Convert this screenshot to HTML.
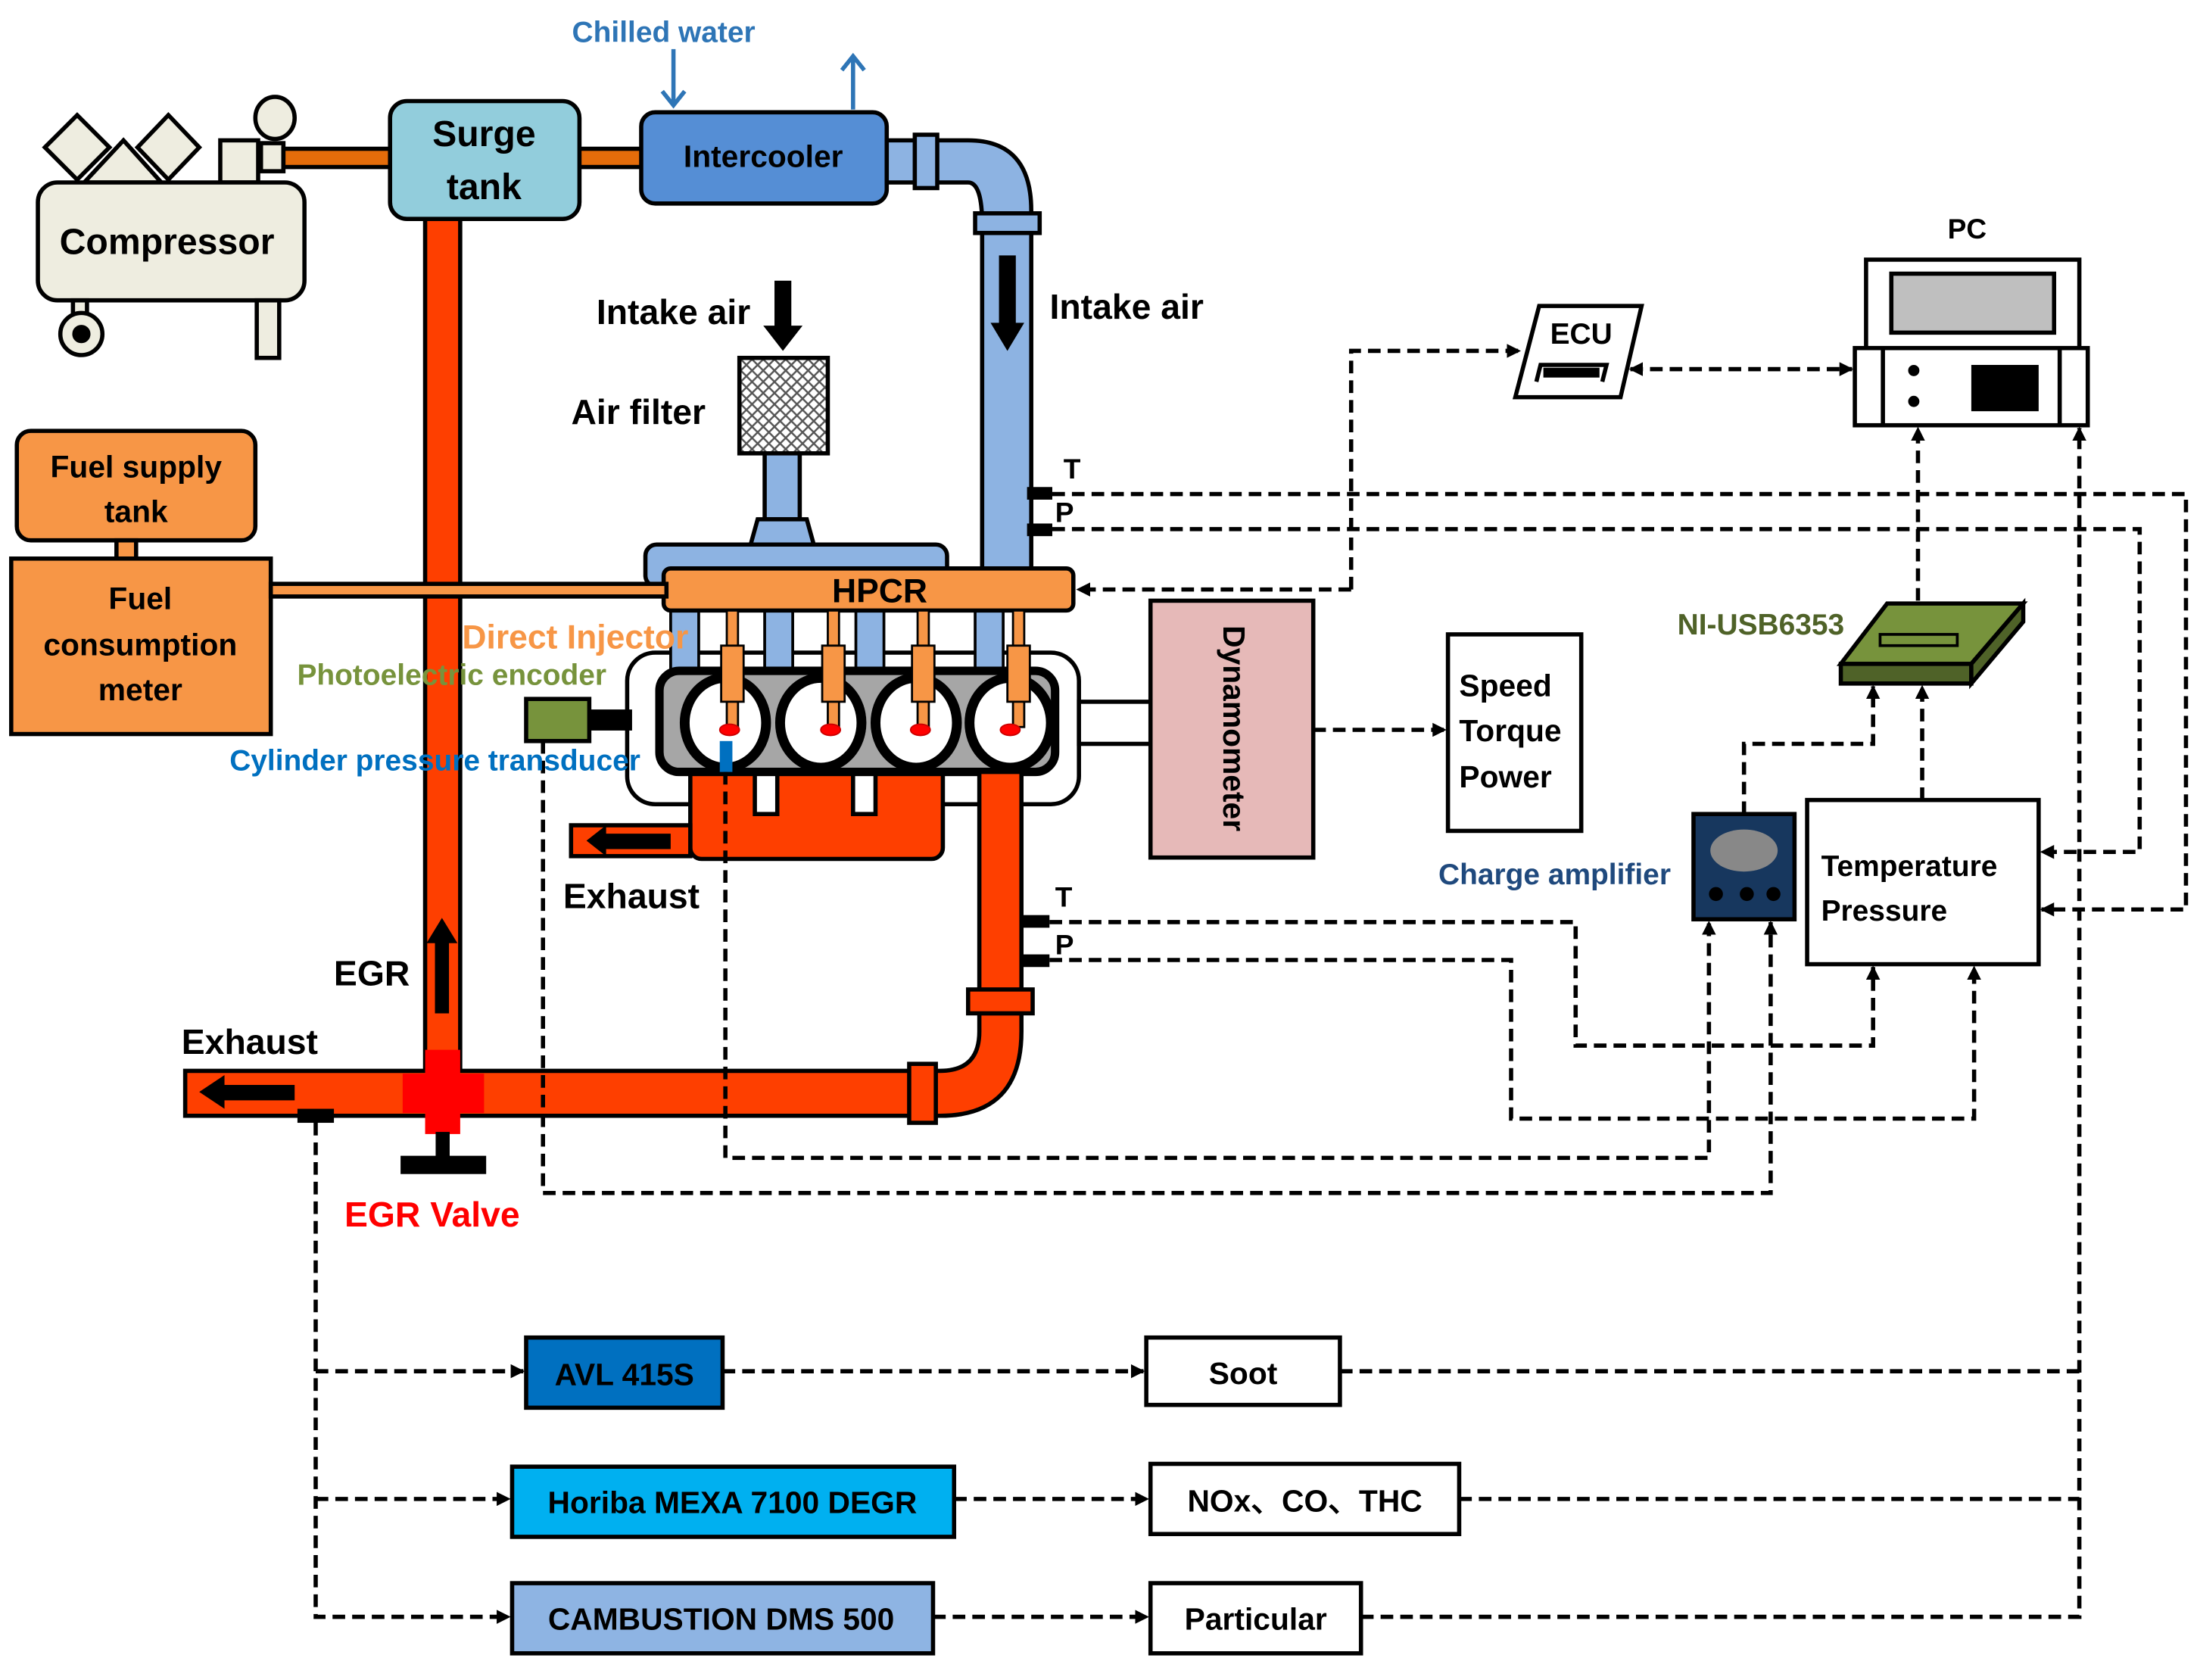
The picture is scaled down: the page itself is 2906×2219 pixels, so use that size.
<!DOCTYPE html>
<html><head><meta charset="utf-8"><style>
html,body{margin:0;padding:0;background:#fff;}
svg{display:block;}
text{font-family:"Liberation Sans",sans-serif;font-weight:bold;}
</style></head><body>
<svg width="2906" height="2219" viewBox="0 0 1568 1197" preserveAspectRatio="none" xmlns="http://www.w3.org/2000/svg">
<defs>
<marker id="a" markerWidth="10" markerHeight="10" refX="9" refY="5" orient="auto" markerUnits="userSpaceOnUse"><path d="M0,0 L10,5 L0,10 Z" fill="#000"/></marker>
<marker id="as" markerWidth="10" markerHeight="10" refX="1" refY="5" orient="auto" markerUnits="userSpaceOnUse"><path d="M10,0 L0,5 L10,10 Z" fill="#000"/></marker>
<pattern id="h" width="8" height="8" patternUnits="userSpaceOnUse"><rect width="8" height="8" fill="#fff"/><path d="M0,0L8,8M8,0L0,8" stroke="#555" stroke-width="1.3"/></pattern>
</defs>
<g stroke="#000" stroke-width="3">
<!-- compressor -->
<path d="M32,105 L55,82 L78,105 L55,128 Z" fill="#eeede0"/>
<path d="M98,105 L120,82 L142,105 L120,128 Z" fill="#eeede0"/>
<path d="M60,130 L88,100 L115,130 Z" fill="#eeede0"/>
<rect x="157" y="100" width="27" height="30" fill="#eeede0"/>
<ellipse cx="196" cy="84" rx="14" ry="15" fill="#eeede0"/>
<rect x="186" y="102" width="16" height="20" fill="#eeede0"/>
<rect x="27" y="130" width="190" height="84" rx="14" fill="#eeede0"/>
<rect x="52" y="214" width="10" height="10" fill="#eeede0"/>
<circle cx="58" cy="238" r="15" fill="#eeede0"/>
<circle cx="58" cy="238" r="5" fill="#000"/>
<rect x="183" y="214" width="16" height="41" fill="#eeede0"/>
<!-- orange pipes -->
<rect x="202" y="106" width="78" height="13" fill="#e46c0a"/>
<rect x="412" y="106" width="46" height="13" fill="#e46c0a"/>
<!-- red vertical EGR pipe -->
<rect x="303" y="155" width="25" height="610" fill="#fe3f00"/>
<rect x="278" y="72" width="135" height="84" rx="12" fill="#92cddc"/>
<rect x="457" y="80" width="175" height="65" rx="10" fill="#558ed5"/>
<!-- blue intake pipe -->
<path d="M632,100 L690,100 Q735,100 735,150 L735,420 L700,420 L700,160 Q700,130 690,130 L632,130 Z" fill="#8db3e2"/>
<rect x="652" y="96" width="16" height="38" fill="#8db3e2"/>
<rect x="695" y="152" width="46" height="14" fill="#8db3e2"/>
<!-- air filter -->
<rect x="527" y="255" width="63" height="68" fill="url(#h)"/>
<rect x="545" y="323" width="25" height="47" fill="#8db3e2"/>
<path d="M540,370 L575,370 L580,388 L535,388 Z" fill="#8db3e2"/>
<rect x="460" y="388" width="215" height="30" rx="8" fill="#8db3e2"/>
<!-- engine -->
<rect x="447" y="465" width="322" height="108" rx="20" fill="#fff"/>
<rect x="769" y="500" width="52" height="30" fill="#fff"/>
<rect x="478" y="430" width="20" height="55" fill="#8db3e2" stroke-width="2"/>
<rect x="545" y="430" width="20" height="55" fill="#8db3e2" stroke-width="2"/>
<rect x="610" y="430" width="20" height="55" fill="#8db3e2" stroke-width="2"/>
<rect x="695" y="430" width="20" height="55" fill="#8db3e2" stroke-width="2"/>
<rect x="492" y="540" width="180" height="72" rx="8" fill="#fe3f00"/>
<rect x="538" y="548" width="16" height="32" fill="#fff"/>
<rect x="608" y="548" width="16" height="32" fill="#fff"/>
<rect x="407" y="588" width="85" height="22" fill="#fe3f00"/>
<rect x="470" y="478" width="282" height="72" rx="14" fill="#a6a6a6" stroke-width="6"/>
<ellipse cx="517" cy="515" rx="29" ry="32" fill="#fff" stroke-width="7"/>
<ellipse cx="585" cy="515" rx="29" ry="32" fill="#fff" stroke-width="7"/>
<ellipse cx="653" cy="515" rx="29" ry="32" fill="#fff" stroke-width="7"/>
<ellipse cx="720" cy="515" rx="29" ry="32" fill="#fff" stroke-width="7"/>
<rect x="473" y="405" width="292" height="30" rx="5" fill="#f79646"/>
<!-- injectors -->
<g fill="#f79646" stroke-width="1.5">
<rect x="518" y="435" width="8" height="30"/><rect x="514" y="460" width="16" height="40"/><rect x="518" y="500" width="8" height="18"/>
<rect x="590" y="435" width="8" height="30"/><rect x="586" y="460" width="16" height="40"/><rect x="590" y="500" width="8" height="18"/>
<rect x="654" y="435" width="8" height="30"/><rect x="650" y="460" width="16" height="40"/><rect x="654" y="500" width="8" height="18"/>
<rect x="722" y="435" width="8" height="30"/><rect x="718" y="460" width="16" height="40"/><rect x="722" y="500" width="8" height="18"/>
</g>
<g fill="#f00" stroke="#c00" stroke-width="1">
<ellipse cx="520" cy="520" rx="7" ry="4"/><ellipse cx="592" cy="520" rx="7" ry="4"/><ellipse cx="656" cy="520" rx="7" ry="4"/><ellipse cx="720" cy="520" rx="7" ry="4"/>
</g>
<rect x="513" y="528" width="9" height="22" fill="#0070c0" stroke="none"/>
<!-- encoder -->
<rect x="422" y="507" width="27" height="12" fill="#000"/>
<rect x="375" y="498" width="45" height="30" fill="#77933c"/>
<!-- exhaust pipes -->
<rect x="698" y="550" width="30" height="160" fill="#fe3f00"/>
<path d="M698,722 L698,735 Q698,763 670,763 L132,763 L132,795 L670,795 Q728,795 728,735 L728,722 Z" fill="#fe3f00"/>
<rect x="690" y="705" width="46" height="17" fill="#fe3f00"/>
<rect x="648" y="758" width="19" height="42" fill="#fe3f00"/>
<!-- EGR valve -->
<path d="M303,748 L328,748 L328,765 L345,765 L345,793 L328,793 L328,808 L303,808 L303,793 L287,793 L287,765 L303,765 Z" fill="#f00" stroke="none"/>
<rect x="312" y="808" width="7" height="18" fill="#000"/>
<rect x="287" y="825" width="58" height="10" fill="#000"/>
<!-- fuel -->
<rect x="12" y="307" width="170" height="78" rx="10" fill="#f79646"/>
<rect x="83" y="385" width="14" height="13" fill="#f79646"/>
<rect x="8" y="398" width="185" height="125" fill="#f79646"/>
<rect x="193" y="416" width="282" height="9" fill="#f79646"/>
<!-- dyn -->
<rect x="820" y="428" width="116" height="183" fill="#e6b9b8"/>
<rect x="1032" y="452" width="95" height="140" fill="#fff"/>
<!-- ECU -->
<path d="M1097,218 L1170,218 L1155,283 L1080,283 Z" fill="#fff"/>
<path d="M1095,272 L1098,260 L1145,260 L1142,272" fill="none" stroke-width="3"/>
<rect x="1100" y="262" width="40" height="7" fill="#000" stroke="none"/>
<!-- PC -->
<rect x="1330" y="185" width="152" height="63" fill="#fff"/>
<rect x="1348" y="195" width="116" height="42" fill="#bfbfbf"/>
<rect x="1322" y="248" width="166" height="55" fill="#fff"/>
<line x1="1342" y1="248" x2="1342" y2="303"/><line x1="1468" y1="248" x2="1468" y2="303"/>
<circle cx="1364" cy="264" r="4" fill="#000" stroke="none"/><circle cx="1364" cy="286" r="4" fill="#000" stroke="none"/>
<rect x="1405" y="260" width="48" height="33" fill="#000" stroke="none"/>
<!-- NI -->
<path d="M1345,430 L1442,430 L1405,473 L1312,473 Z" fill="#77933c"/>
<path d="M1312,473 L1405,473 L1405,487 L1312,487 Z" fill="#4f6228"/>
<path d="M1405,473 L1442,430 L1442,443 L1405,487 Z" fill="#4f6228"/>
<rect x="1340" y="452" width="55" height="8" fill="#77933c" stroke-width="2"/>
<!-- charge amp -->
<rect x="1207" y="580" width="72" height="75" fill="#17375e"/>
<ellipse cx="1243" cy="606" rx="24" ry="15" fill="#888" stroke="none"/>
<circle cx="1223" cy="637" r="5" fill="#000" stroke="none"/><circle cx="1245" cy="637" r="5" fill="#000" stroke="none"/><circle cx="1264" cy="637" r="5" fill="#000" stroke="none"/>
<rect x="1288" y="570" width="165" height="117" fill="#fff"/>
<!-- emissions -->
<rect x="375" y="953" width="140" height="50" fill="#0070c0"/>
<rect x="817" y="953" width="138" height="48" fill="#fff"/>
<rect x="365" y="1045" width="315" height="50" fill="#00b0f0"/>
<rect x="820" y="1043" width="220" height="50" fill="#fff"/>
<rect x="365" y="1128" width="300" height="50" fill="#8eb4e3"/>
<rect x="820" y="1128" width="150" height="50" fill="#fff"/>
<!-- sensors -->
<rect x="732" y="347" width="18" height="9" fill="#000" stroke="none"/>
<rect x="732" y="373" width="18" height="9" fill="#000" stroke="none"/>
<rect x="728" y="652" width="20" height="9" fill="#000" stroke="none"/>
<rect x="728" y="680" width="20" height="9" fill="#000" stroke="none"/>
<rect x="212" y="790" width="26" height="10" fill="#000" stroke="none"/>
</g>
<!-- solid arrows -->
<g fill="#000">
<path d="M552,200 L564,200 L564,232 L572,232 L558,250 L544,232 L552,232 Z"/>
<path d="M712,182 L724,182 L724,230 L730,230 L718,250 L706,230 L712,230 Z"/>
<path d="M310,722 L320,722 L320,672 L326,672 L315,654 L304,672 L310,672 Z"/>
<path d="M210,773 L210,784 L160,784 L160,790 L142,778 L160,766 L160,773 Z"/>
<path d="M478,594 L478,605 L432,605 L432,610 L418,599 L432,588 L432,594 Z"/>
</g>
<g stroke="#2e75b6" stroke-width="3" fill="none">
<line x1="480" y1="35" x2="480" y2="75"/><path d="M472,65 L480,75 L488,65"/>
<line x1="608" y1="78" x2="608" y2="40"/><path d="M600,50 L608,40 L616,50"/>
</g>
<!-- dashed -->
<g stroke="#000" stroke-width="3" fill="none" stroke-dasharray="9,5">
<path d="M750,352 L1558,352 L1558,648 L1455,648" marker-end="url(#a)"/>
<path d="M750,377 L1525,377 L1525,607 L1455,607" marker-end="url(#a)"/>
<path d="M963,420 L963,250 L1083,250" marker-end="url(#a)"/>
<path d="M963,420 L768,420" marker-end="url(#a)"/>
<path d="M1162,263 L1320,263" marker-start="url(#as)" marker-end="url(#a)"/>
<path d="M1367,428 L1367,305" marker-end="url(#a)"/>
<path d="M1243,580 L1243,530 L1335,530 L1335,489" marker-end="url(#a)"/>
<path d="M1370,570 L1370,489" marker-end="url(#a)"/>
<path d="M936,520 L1030,520" marker-end="url(#a)"/>
<path d="M748,657 L1123,657 L1123,745 L1335,745 L1335,689" marker-end="url(#a)"/>
<path d="M748,684 L1077,684 L1077,797 L1407,797 L1407,689" marker-end="url(#a)"/>
<path d="M517,550 L517,825 L1218,825 L1218,657" marker-end="url(#a)"/>
<path d="M387,528 L387,850 L1262,850 L1262,657" marker-end="url(#a)"/>
<path d="M225,800 L225,1152 L363,1152" marker-end="url(#a)"/>
<path d="M225,977 L373,977" marker-end="url(#a)"/>
<path d="M225,1068 L363,1068" marker-end="url(#a)"/>
<path d="M515,977 L815,977" marker-end="url(#a)"/>
<path d="M680,1068 L818,1068" marker-end="url(#a)"/>
<path d="M665,1152 L818,1152" marker-end="url(#a)"/>
<path d="M955,977 L1482,977"/>
<path d="M1040,1068 L1482,1068"/>
<path d="M970,1152 L1482,1152 L1482,305" marker-end="url(#a)"/>
</g>
<!-- text -->
<g font-size="25" fill="#000">
<text x="119" y="181" text-anchor="middle" font-size="26">Compressor</text>
<text x="345" y="104" text-anchor="middle" font-size="26">Surge</text>
<text x="345" y="142" text-anchor="middle" font-size="26">tank</text>
<text x="544" y="119" text-anchor="middle" font-size="22">Intercooler</text>
<text x="480" y="231" text-anchor="middle">Intake air</text>
<text x="803" y="227" text-anchor="middle">Intake air</text>
<text x="455" y="302" text-anchor="middle">Air filter</text>
<text x="97" y="340" text-anchor="middle" font-size="22">Fuel supply</text>
<text x="97" y="372" text-anchor="middle" font-size="22">tank</text>
<text x="100" y="434" text-anchor="middle" font-size="22">Fuel</text>
<text x="100" y="467" text-anchor="middle" font-size="22">consumption</text>
<text x="100" y="499" text-anchor="middle" font-size="22">meter</text>
<text x="627" y="429" text-anchor="middle" font-size="24">HPCR</text>
<text x="410" y="462" text-anchor="middle" font-size="24" fill="#f79646">Direct Injector</text>
<text x="322" y="488" text-anchor="middle" font-size="21" fill="#77933c">Photoelectric encoder</text>
<text x="310" y="549" text-anchor="middle" font-size="21" fill="#0070c0">Cylinder pressure transducer</text>
<text x="450" y="647" text-anchor="middle">Exhaust</text>
<text x="265" y="702" text-anchor="middle">EGR</text>
<text x="178" y="751" text-anchor="middle">Exhaust</text>
<text x="308" y="874" text-anchor="middle" fill="#f00">EGR Valve</text>
<text x="872" y="519" text-anchor="middle" font-size="22" transform="rotate(90 872 519)">Dynamometer</text>
<text x="1040" y="496" font-size="22">Speed</text>
<text x="1040" y="528" font-size="22">Torque</text>
<text x="1040" y="561" font-size="22">Power</text>
<text x="1127" y="245" text-anchor="middle" font-size="21">ECU</text>
<text x="1402" y="170" text-anchor="middle" font-size="20">PC</text>
<text x="1255" y="452" text-anchor="middle" font-size="21" fill="#4f6228">NI-USB6353</text>
<text x="1108" y="630" text-anchor="middle" font-size="21" fill="#1f497d">Charge amplifier</text>
<text x="1298" y="624" font-size="21">Temperature</text>
<text x="1298" y="656" font-size="21">Pressure</text>
<text x="758" y="341" font-size="20">T</text>
<text x="752" y="372" font-size="20">P</text>
<text x="752" y="646" font-size="20">T</text>
<text x="752" y="680" font-size="20">P</text>
<text x="473" y="30" text-anchor="middle" font-size="21" fill="#2e75b6">Chilled water</text>
<text x="445" y="987" text-anchor="middle" font-size="22">AVL 415S</text>
<text x="886" y="986" text-anchor="middle" font-size="22">Soot</text>
<text x="522" y="1078" text-anchor="middle" font-size="22">Horiba MEXA 7100 DEGR</text>
<text x="930" y="1077" text-anchor="middle" font-size="22">NOx、CO、THC</text>
<text x="514" y="1161" text-anchor="middle" font-size="22">CAMBUSTION DMS 500</text>
<text x="895" y="1161" text-anchor="middle" font-size="22">Particular</text>
</g>
</svg>
</body></html>
